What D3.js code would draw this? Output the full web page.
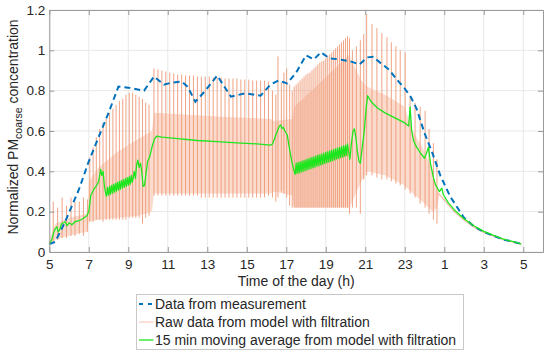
<!DOCTYPE html>
<html>
<head>
<meta charset="utf-8">
<script src="https://cdn.jsdelivr.net/npm/d3@7"></script>
<style>
    body { margin: 0; background: #fff; }
    svg { font-family: "Liberation Sans", Arial, sans-serif; }
</style>
</head>
<body>
<div id="chart"></div>
<script>
// time is in hours from 5:00, running past midnight (25 = 1:00 next day)
const xTicks = [5, 7, 9, 11, 13, 15, 17, 19, 21, 23, 25, 27, 29];
const xTickLabels = ["5", "7", "9", "11", "13", "15", "17", "19", "21", "23", "1", "3", "5"];
const yTicks = [0, 0.2, 0.4, 0.6, 0.8, 1, 1.2];

// data from measurement (blue dashed)
const measTime = [5.0, 5.3, 5.8, 6.5, 7.0, 7.5, 8.0, 8.5, 9.0, 9.8, 10.3, 10.8, 11.2, 11.7, 12.0, 12.4,
    12.9, 13.5, 14.2, 14.9, 15.7, 16.2, 16.6, 17.05, 17.5, 18.0, 18.4, 18.75, 19.2, 19.7, 20.3, 20.7,
    21.1, 21.4, 21.8, 22.2, 22.6, 23.0, 23.3, 23.6, 24.0, 24.4, 24.8, 25.3, 26.0, 26.5, 27.0, 27.5,
    28.0, 28.5, 28.9];
const measValue = [0.04, 0.05, 0.15, 0.31, 0.45, 0.57, 0.69, 0.82, 0.815, 0.80, 0.87, 0.83, 0.84, 0.845, 0.82, 0.745,
    0.80, 0.875, 0.77, 0.787, 0.775, 0.83, 0.85, 0.836, 0.89, 0.975, 0.955, 0.99, 0.96, 0.955, 0.944, 0.93,
    0.965, 0.968, 0.935, 0.905, 0.855, 0.81, 0.77, 0.71, 0.59, 0.49, 0.38, 0.275, 0.17, 0.127, 0.10, 0.08,
    0.062, 0.05, 0.04];

// raw model data: dense oscillation band
const bandTime = [5.0, 5.3, 6.0, 6.9, 7.0, 7.5, 8.5, 9.5, 10.2, 10.3, 12, 14, 16.2, 16.4, 17.3, 17.4,
    18.5, 20.2, 20.3, 20.8, 21.1, 22, 23, 23.3, 24, 24.4, 24.65, 24.75];
const bandLow = [0.04, 0.06, 0.08, 0.10, 0.15, 0.16, 0.17, 0.18, 0.2, 0.29, 0.29, 0.29, 0.29, 0.3, 0.28, 0.22,
    0.22, 0.22, 0.24, 0.35, 0.40, 0.38, 0.33, 0.30, 0.24, 0.20, 0.22, 0.28];
const bandHigh = [0.06, 0.14, 0.17, 0.19, 0.35, 0.42, 0.5, 0.56, 0.6, 0.69, 0.68, 0.67, 0.66, 0.65, 0.66, 0.72,
    0.82, 0.98, 0.95, 0.85, 0.82, 0.78, 0.72, 0.62, 0.50, 0.40, 0.30, 0.30];

// raw model data: filtration spikes
const spikeTime = [5.2, 5.42, 5.65, 5.87, 6.1, 6.3, 6.52, 6.73, 6.93,
    7.05, 7.22, 7.38, 7.55, 7.72, 7.88, 8.05, 8.22, 8.38, 8.55, 8.72, 8.88, 9.05, 9.22, 9.38, 9.55, 9.72, 9.88, 10.05,
    10.3, 10.5, 10.7, 10.9, 11.1, 11.3, 11.5, 11.7, 11.9, 12.1, 12.3, 12.5, 12.7, 12.9, 13.1, 13.3, 13.5, 13.7,
    13.9, 14.1, 14.3, 14.5, 14.7, 14.9, 15.1, 15.3, 15.5, 15.7, 15.9, 16.1,
    16.3, 16.47, 16.58, 16.75, 16.88, 17.02, 17.17, 17.3,
    17.4, 17.5, 17.6, 17.7, 17.8, 17.9, 18.0, 18.1, 18.2, 18.3, 18.4, 18.5, 18.6, 18.7, 18.8, 18.9, 19.0,
    19.1, 19.2, 19.3, 19.4, 19.5, 19.6, 19.7, 19.8, 19.9, 20.0, 20.1, 20.2,
    20.35, 20.55, 20.75, 20.92, 21.07, 21.34, 21.59, 21.84, 22.1, 22.32, 22.55, 22.77, 23.02, 23.27, 23.52,
    23.78, 24.03, 24.23, 24.45, 24.63];
const spikeLow = [0.05, 0.06, 0.07, 0.07, 0.08, 0.08, 0.09, 0.08, 0.10,
    0.15, 0.15, 0.16, 0.16, 0.15, 0.16, 0.16, 0.16, 0.16, 0.16, 0.16, 0.16, 0.17, 0.17, 0.17, 0.17, 0.14, 0.17, 0.18,
    0.28, 0.28, 0.28, 0.28, 0.28, 0.28, 0.28, 0.28, 0.28, 0.28, 0.28, 0.28, 0.27, 0.27, 0.27, 0.27, 0.27, 0.27,
    0.27, 0.27, 0.27, 0.27, 0.27, 0.27, 0.27, 0.27, 0.27, 0.27, 0.27, 0.28,
    0.27, 0.25, 0.27, 0.30, 0.29, 0.27, 0.23, 0.22,
    0.22, 0.22, 0.22, 0.22, 0.22, 0.22, 0.22, 0.22, 0.22, 0.22, 0.22, 0.22, 0.22, 0.22, 0.22, 0.22, 0.22,
    0.22, 0.22, 0.22, 0.22, 0.22, 0.22, 0.22, 0.22, 0.22, 0.22, 0.22, 0.19,
    0.22, 0.22, 0.19, 0.36, 0.38, 0.38, 0.37, 0.36, 0.36, 0.35, 0.34, 0.33, 0.31, 0.29, 0.27,
    0.24, 0.22, 0.19, 0.16, 0.14];
const spikeHigh = [0.25, 0.22, 0.27, 0.23, 0.27, 0.25, 0.25, 0.27, 0.26,
    0.47, 0.52, 0.57, 0.61, 0.64, 0.66, 0.69, 0.71, 0.73, 0.75, 0.76, 0.78, 0.79, 0.79, 0.78, 0.77, 0.76, 0.74, 0.73,
    0.91, 0.905, 0.90, 0.895, 0.89, 0.885, 0.88, 0.88, 0.875, 0.875, 0.875, 0.87, 0.87, 0.87, 0.87, 0.865, 0.865, 0.865,
    0.86, 0.86, 0.86, 0.86, 0.855, 0.855, 0.855, 0.85, 0.85, 0.85, 0.85, 0.845,
    0.80, 0.78, 0.97, 0.84, 0.89, 0.91, 0.83, 0.80,
    0.82, 0.83, 0.84, 0.85, 0.86, 0.87, 0.88, 0.885, 0.89, 0.90, 0.91, 0.92, 0.93, 0.94, 0.945, 0.95, 0.96,
    0.97, 0.98, 0.99, 1.0, 1.01, 1.02, 1.03, 1.04, 1.05, 1.06, 1.07, 1.06,
    1.0, 1.02, 1.05, 1.08, 1.18, 1.13, 1.11, 1.085, 1.065, 1.04, 1.02, 1.0, 0.99, 0.77, 0.74,
    0.72, 0.70, 0.61, 0.54, 0.46];

// raw model data after the last filtration cycle
const tailTime = [24.7, 24.9, 25.2, 25.5, 26.0, 26.5, 27.0, 27.5, 28.0, 28.5, 28.9];
const tailValue = [0.29, 0.27, 0.235, 0.2, 0.158, 0.123, 0.097, 0.078, 0.06, 0.048, 0.038];

// 15 min moving average from model with filtration (green)
const maTime = [5.00, 5.12, 5.22, 5.30, 5.38, 5.45, 5.52, 5.62, 5.72, 5.80, 5.90, 6.00, 6.15, 6.30, 6.50, 6.70,
    6.90, 7.00, 7.10, 7.25, 7.40, 7.50, 7.60, 7.66, 7.72, 7.80, 7.88,
    7.90, 7.95, 8.00, 8.05, 8.10, 8.15, 8.20, 8.25, 8.30, 8.35, 8.40, 8.45, 8.50, 8.55, 8.60, 8.65, 8.70, 8.75,
    8.80, 8.85, 8.90, 8.95, 9.00, 9.05, 9.10, 9.15, 9.20,
    9.25, 9.30, 9.36, 9.42, 9.48, 9.55, 9.62, 9.68, 9.75, 9.82, 9.90, 9.98, 10.08, 10.20, 10.32, 10.45, 10.70,
    11.50, 12.50, 13.50, 14.50, 15.50, 16.20, 16.30, 16.40, 16.47, 16.55, 16.65, 16.72, 16.78, 16.85, 16.93,
    17.05, 17.15, 17.22, 17.32, 17.40,
    17.45, 17.50, 17.55, 17.60, 17.65, 17.70, 17.75, 17.80, 17.85, 17.90, 17.95, 18.00, 18.05, 18.10, 18.15,
    18.20, 18.25, 18.30, 18.35, 18.40, 18.45, 18.50, 18.55, 18.60, 18.65, 18.70, 18.75, 18.80, 18.85, 18.90,
    18.95, 19.00, 19.05, 19.10, 19.15, 19.20, 19.25, 19.30, 19.35, 19.40, 19.45, 19.50, 19.55, 19.60, 19.65,
    19.70, 19.75, 19.80, 19.85, 19.90, 19.95, 20.00, 20.05, 20.10,
    20.15, 20.22, 20.30, 20.38, 20.45, 20.52, 20.60, 20.68, 20.75, 20.85, 20.95, 21.05, 21.12, 21.30, 21.60,
    22.00, 22.50, 23.00, 23.20, 23.27, 23.35, 23.45, 23.60, 23.80, 24.00, 24.10, 24.20, 24.30, 24.45, 24.55,
    24.75, 24.88, 24.95, 25.20, 25.50, 26.00, 26.50, 27.00, 27.50, 28.00, 28.50, 28.90];
const maValue = [0.040, 0.060, 0.095, 0.115, 0.125, 0.100, 0.110, 0.140, 0.145, 0.150, 0.130, 0.145, 0.135, 0.150, 0.155, 0.165,
    0.180, 0.200, 0.280, 0.310, 0.330, 0.350, 0.410, 0.380, 0.400, 0.320, 0.280,
    0.277, 0.320, 0.282, 0.325, 0.287, 0.330, 0.292, 0.335, 0.297, 0.340, 0.302, 0.345, 0.307, 0.350, 0.311, 0.354, 0.316, 0.359,
    0.321, 0.364, 0.326, 0.369, 0.331, 0.374, 0.336, 0.380, 0.345,
    0.370, 0.400, 0.365, 0.430, 0.456, 0.420, 0.440, 0.400, 0.325, 0.330, 0.390, 0.450, 0.470, 0.520, 0.560, 0.575, 0.570,
    0.562, 0.553, 0.547, 0.541, 0.536, 0.530, 0.535, 0.560, 0.580, 0.600, 0.625, 0.630, 0.612, 0.618, 0.600,
    0.580, 0.520, 0.480, 0.430, 0.400,
    0.385, 0.440, 0.389, 0.444, 0.392, 0.447, 0.396, 0.451, 0.399, 0.454, 0.403, 0.458, 0.407, 0.462, 0.410,
    0.465, 0.414, 0.469, 0.417, 0.472, 0.421, 0.476, 0.425, 0.480, 0.428, 0.483, 0.432, 0.487, 0.435, 0.490,
    0.439, 0.494, 0.443, 0.498, 0.446, 0.501, 0.450, 0.505, 0.453, 0.508, 0.457, 0.512, 0.461, 0.516, 0.464,
    0.519, 0.468, 0.523, 0.471, 0.526, 0.475, 0.530, 0.479, 0.536,
    0.500, 0.460, 0.540, 0.600, 0.610, 0.570, 0.500, 0.450, 0.440, 0.520, 0.600, 0.720, 0.775, 0.745, 0.715,
    0.690, 0.665, 0.640, 0.625, 0.720, 0.600, 0.550, 0.520, 0.490, 0.465, 0.490, 0.520, 0.440, 0.370, 0.335,
    0.300, 0.316, 0.285, 0.245, 0.210, 0.165, 0.130, 0.102, 0.082, 0.064, 0.051, 0.040];

const legendLabels = ["Data from measurement", "Raw data from model with filtration",
    "15 min moving average from model with filtration"];

const width = 550, height = 355;
const plotLeft = 49.3, plotRight = 543, plotTop = 10, plotBottom = 252;

const blue = "#0072bd", raw = "#f09a78", rawBand = "#fadbcd", green = "#1ee61e";

const svg = d3.select("#chart")
    .append("svg")
    .attr("width", width)
    .attr("height", height);

const x = d3.scaleLinear().domain([5, 30]).range([plotLeft, plotRight]);
const y = d3.scaleLinear().domain([0, 1.2]).range([plotBottom, plotTop]);

// grid
const grid = svg.append("g").attr("class", "grid");
grid.selectAll("line.gx")
    .data(xTicks)
    .enter()
    .append("line")
    .attr("class", "gx")
    .attr("x1", d => x(d)).attr("x2", d => x(d))
    .attr("y1", plotTop).attr("y2", plotBottom)
    .attr("stroke", "#e8e8e8");
grid.selectAll("line.gy")
    .data(yTicks)
    .enter()
    .append("line")
    .attr("class", "gy")
    .attr("x1", plotLeft).attr("x2", plotRight)
    .attr("y1", d => y(d)).attr("y2", d => y(d))
    .attr("stroke", "#e8e8e8");

const plot = svg.append("g");

// raw band
const band = bandTime.map((t, i) => ({t: t, lo: bandLow[i], hi: bandHigh[i]}));
plot.append("path")
    .datum(band)
    .attr("d", d3.area().x(d => x(d.t)).y0(d => y(d.lo)).y1(d => y(d.hi)))
    .attr("fill", rawBand)
    .attr("stroke", "none");

// raw spikes
plot.selectAll("line.spike")
    .data(spikeTime.map((t, i) => ({t: t, lo: spikeLow[i], hi: spikeHigh[i]})))
    .enter()
    .append("line")
    .attr("class", "spike")
    .attr("x1", d => x(d.t)).attr("x2", d => x(d.t))
    .attr("y1", d => y(d.lo)).attr("y2", d => y(d.hi))
    .attr("stroke", raw)
    .attr("stroke-width", 1)
    .attr("opacity", 0.9);

// raw tail
plot.append("path")
    .datum(tailTime.map((t, i) => [t, tailValue[i]]))
    .attr("d", d3.line().x(d => x(d[0])).y(d => y(d[1])))
    .attr("fill", "none")
    .attr("stroke", raw)
    .attr("stroke-width", 1.1)
    .attr("opacity", 0.7);

// measurement
plot.append("path")
    .datum(measTime.map((t, i) => [t, measValue[i]]))
    .attr("d", d3.line().x(d => x(d[0])).y(d => y(d[1])))
    .attr("fill", "none")
    .attr("stroke", blue)
    .attr("stroke-width", 2)
    .attr("stroke-dasharray", "6,4");

// moving average
plot.append("path")
    .datum(maTime.map((t, i) => [t, maValue[i]]))
    .attr("d", d3.line().x(d => x(d[0])).y(d => y(d[1])))
    .attr("fill", "none")
    .attr("stroke", green)
    .attr("stroke-width", 1.3)
    .attr("stroke-linejoin", "round");

// axes
const axisColor = "#262626";
const xAxis = svg.append("g")
    .attr("transform", `translate(0,${plotBottom})`)
    .call(d3.axisBottom(x).tickValues(xTicks).tickFormat((d, i) => xTickLabels[i])
        .tickSize(-5).tickPadding(7).tickSizeOuter(0));
const xAxisTop = svg.append("g")
    .attr("transform", `translate(0,${plotTop})`)
    .call(d3.axisTop(x).tickValues(xTicks).tickFormat("").tickSize(-5).tickSizeOuter(0));
const yAxis = svg.append("g")
    .attr("transform", `translate(${plotLeft},0)`)
    .call(d3.axisLeft(y).tickValues(yTicks).tickFormat(d3.format("~g"))
        .tickSize(-5).tickPadding(4).tickSizeOuter(0));
const yAxisRight = svg.append("g")
    .attr("transform", `translate(${plotRight},0)`)
    .call(d3.axisRight(y).tickValues(yTicks).tickFormat("").tickSize(-5).tickSizeOuter(0));

[xAxis, xAxisTop, yAxis, yAxisRight].forEach(g => {
    g.select(".domain").attr("stroke", "#9a9a9a");
    g.selectAll(".tick line").attr("stroke", "#9a9a9a");
    g.selectAll("text")
        .attr("fill", axisColor)
        .style("font-family", "'Liberation Sans', Arial, sans-serif")
        .style("font-size", "13.5px");
});

// axis titles
svg.append("text")
    .attr("x", (plotLeft + plotRight) / 2)
    .attr("y", 286)
    .attr("text-anchor", "middle")
    .attr("fill", axisColor)
    .style("font-size", "14px")
    .text("Time of the day (h)");

const ylab = svg.append("text")
    .attr("transform", "translate(18,127) rotate(-90)")
    .attr("text-anchor", "middle")
    .attr("fill", axisColor)
    .style("font-size", "14px");
ylab.append("tspan").text("Normalized PM");
ylab.append("tspan").attr("dy", 4).style("font-size", "10.5px").text("coarse");
ylab.append("tspan").attr("dy", -4).text(" concentration");

// legend
const legend = svg.append("g").attr("transform", "translate(136.5,294.5)");
legend.append("rect")
    .attr("width", 327)
    .attr("height", 55)
    .attr("fill", "#fff")
    .attr("stroke", "#c8c8c8");

const rows = legend.selectAll("g.row")
    .data(legendLabels)
    .enter()
    .append("g")
    .attr("class", "row")
    .attr("transform", (d, i) => `translate(0,${9.5 + i * 18})`);

rows.append("line")
    .attr("x1", 2.5).attr("x2", 17)
    .attr("y1", 0).attr("y2", 0)
    .attr("stroke", (d, i) => [blue, raw, green][i])
    .attr("stroke-width", (d, i) => [2, 1, 1.3][i])
    .attr("stroke-dasharray", (d, i) => i === 0 ? "4,5" : null)
    .attr("opacity", (d, i) => i === 1 ? 0.6 : 1);

rows.append("text")
    .attr("x", 18.5)
    .attr("y", 0)
    .attr("dy", "0.35em")
    .attr("fill", axisColor)
    .style("font-size", "14px")
    .text(d => d);
</script>
</body>
</html>
